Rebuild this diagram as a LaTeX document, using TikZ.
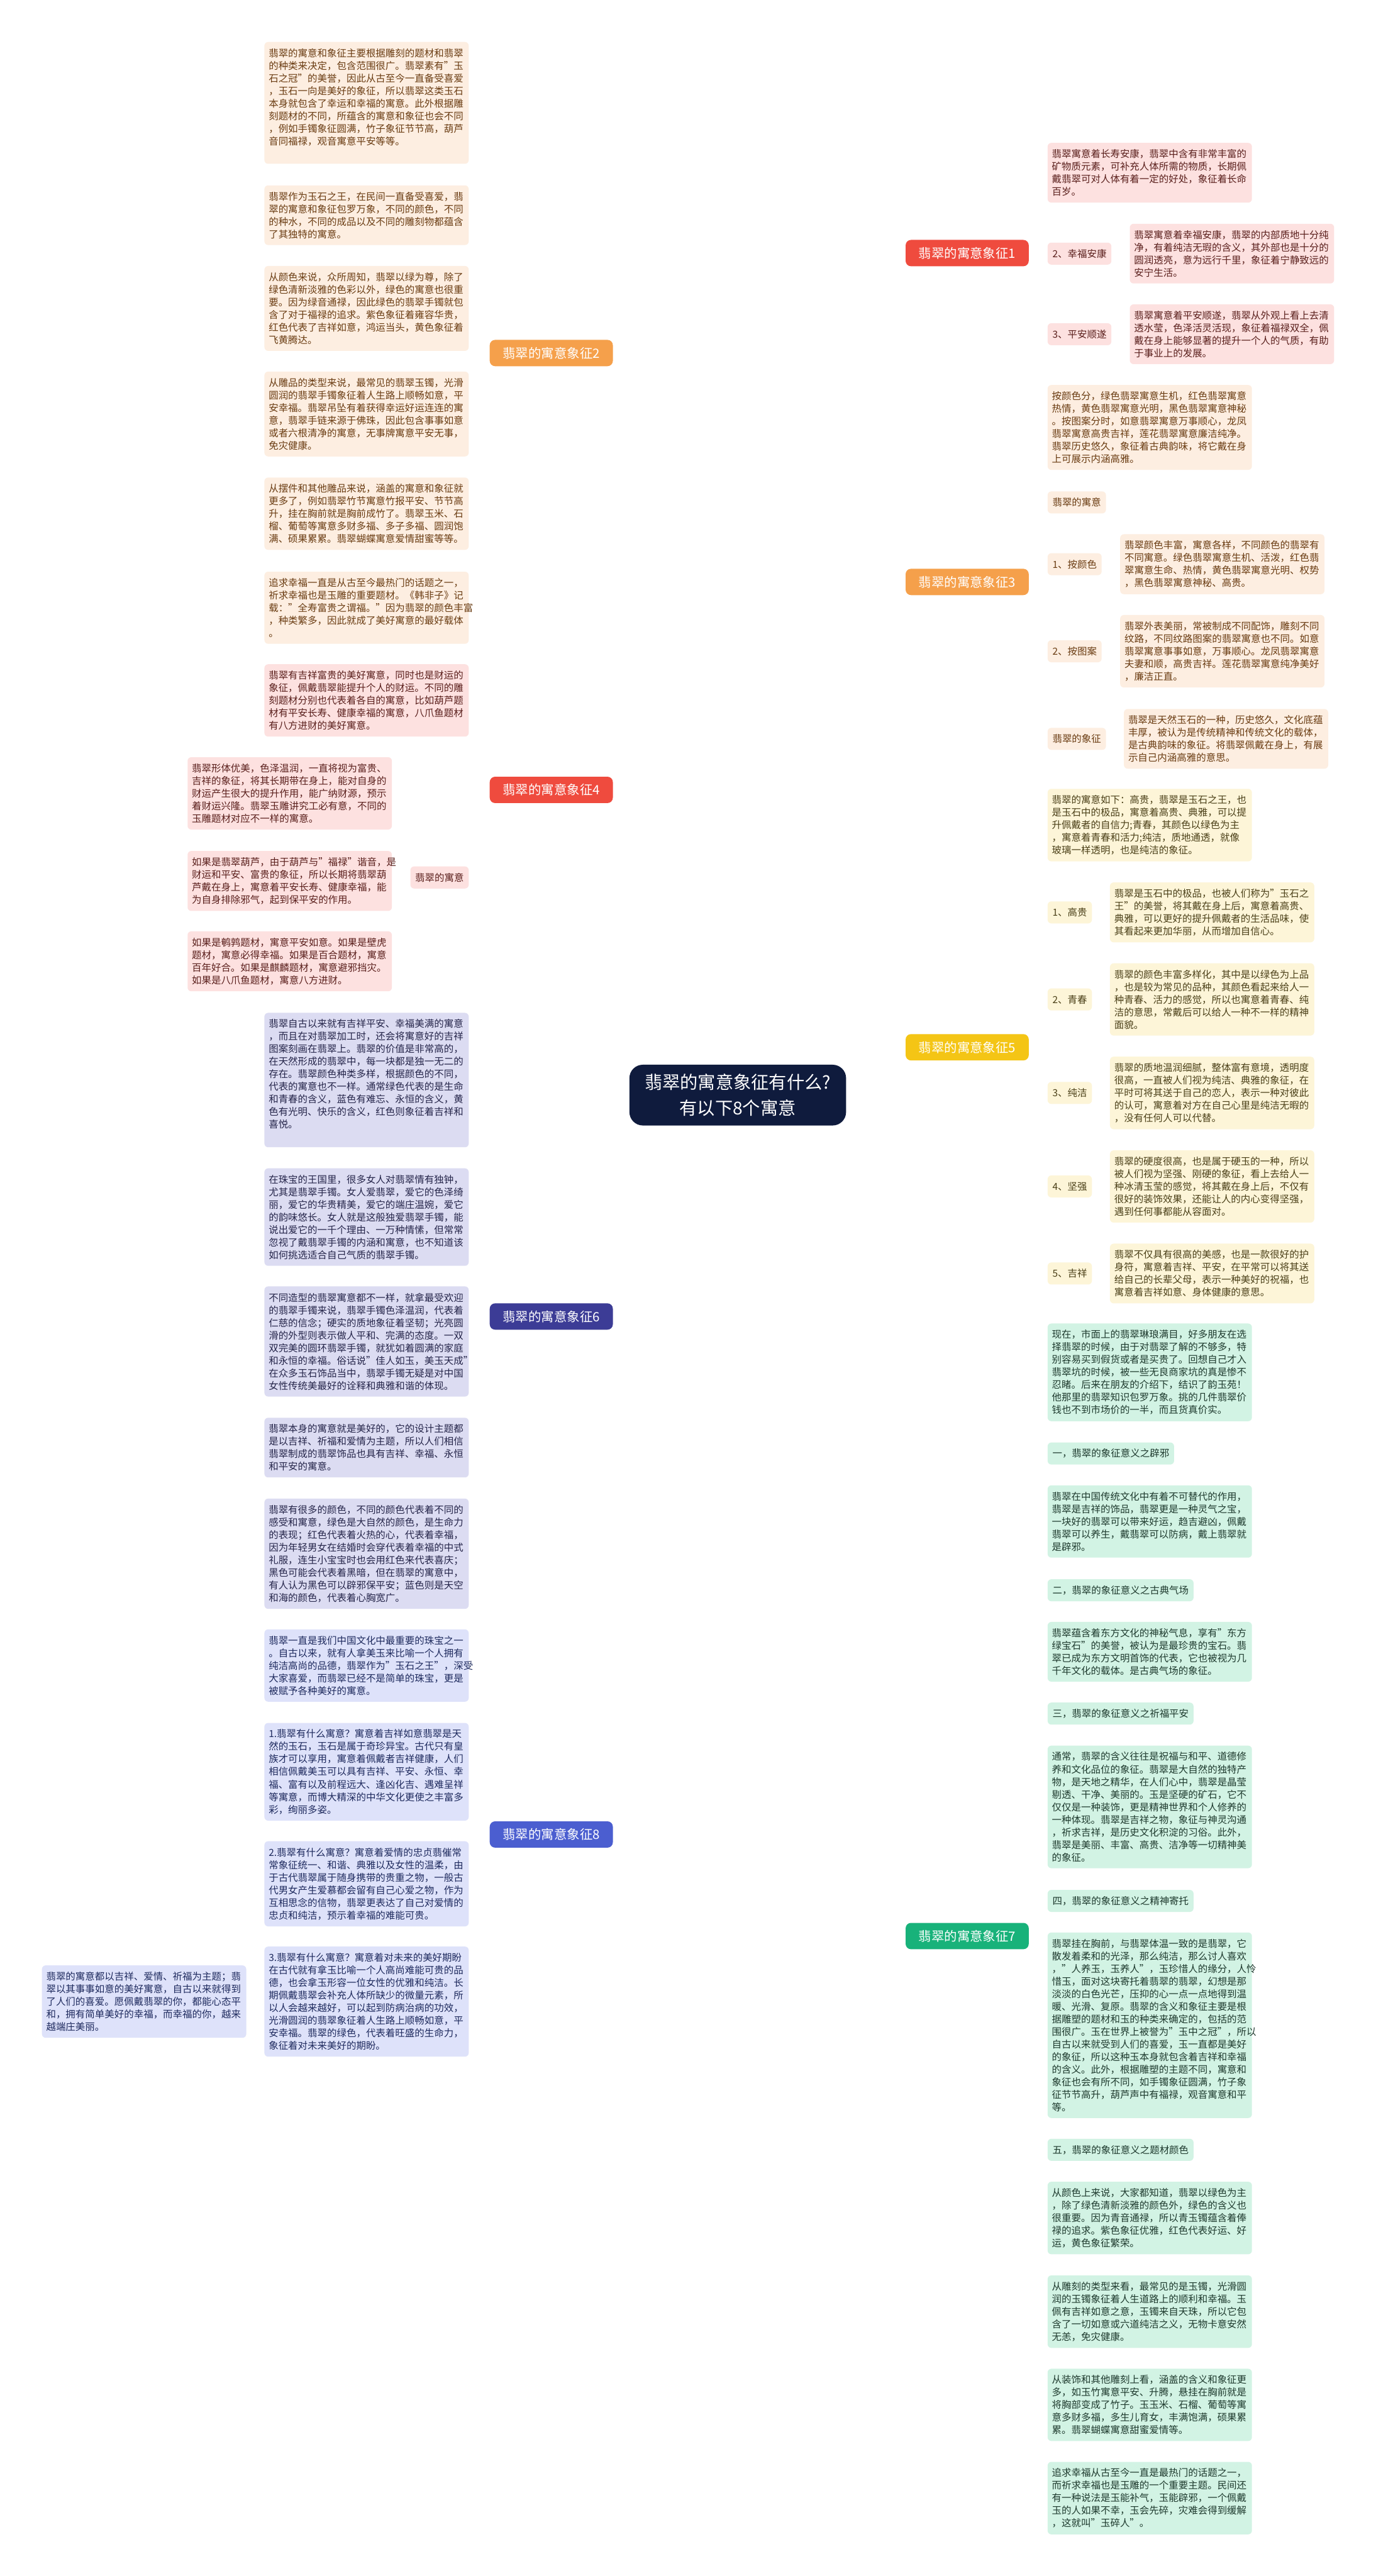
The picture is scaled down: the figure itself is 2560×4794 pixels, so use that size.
\documentclass[tikz,border=0pt]{standalone}
\usepackage{fontspec}
\setmainfont{Noto Sans CJK SC}
\usetikzlibrary{calc}
\pgfdeclarelayer{bg}
\pgfsetlayers{bg,main}
\definecolor{navy}{HTML}{0F1B3D}
\definecolor{rN}{HTML}{EF4B3E}
\definecolor{rL}{HTML}{DE4A40}
\definecolor{rF}{HTML}{FDE1E0}
\definecolor{rT}{HTML}{5A1F1C}
\definecolor{oN}{HTML}{F5A04B}
\definecolor{oL}{HTML}{F1A04F}
\definecolor{oF}{HTML}{FDEEE1}
\definecolor{oT}{HTML}{6A3C12}
\definecolor{yN}{HTML}{F4C515}
\definecolor{yL}{HTML}{F2CB30}
\definecolor{yF}{HTML}{FDF5D8}
\definecolor{yT}{HTML}{4B4018}
\definecolor{gN}{HTML}{18B27A}
\definecolor{gL}{HTML}{1FAD78}
\definecolor{gF}{HTML}{D2F3E4}
\definecolor{gT}{HTML}{1E3A2E}
\definecolor{pN}{HTML}{3C3C96}
\definecolor{pL}{HTML}{3C3C96}
\definecolor{pF}{HTML}{DCDCF2}
\definecolor{pT}{HTML}{25254A}
\definecolor{bN}{HTML}{4B5ED0}
\definecolor{bL}{HTML}{4B5ED0}
\definecolor{bF}{HTML}{DEE2FA}
\definecolor{bT}{HTML}{1E2A5E}
\newcommand\bodyf{\fontsize{5.15pt}{6.66pt}\selectfont}
\newcommand\brf{\fontsize{6.8pt}{8pt}\selectfont}
\newcommand\cenf{\fontsize{9.4pt}{13.7pt}\selectfont}
\newcommand\rconn[4]{\draw[cl,#1] (#2.east) .. controls (#2.east -| #4) and (#3.west -| #4) .. (#3.west);}
\newcommand\lconn[4]{\draw[cl,#1] (#2.west) .. controls (#2.west -| #4) and (#3.east -| #4) .. (#3.east);}
\tikzset{
  tbox/.style={rounded corners=0.07cm, inner xsep=0.08cm, inner ysep=0.12cm, text width=3.64cm, align=left, font=\bodyf},
  tlab/.style={rounded corners=0.07cm, inner xsep=0.09cm, inner ysep=0pt, minimum height=0.41cm, font=\bodyf},
  brn/.style={rounded corners=0.1cm, minimum width=2.29cm, minimum height=0.49cm, inner sep=0pt, text=white, font=\brf},
  cl/.style={line width=0.85pt},
  ml/.style={line width=1.15pt},
  rbox/.style={tbox, fill=rF, text=rT}, rlab/.style={tlab, fill=rF, text=rT},
  obox/.style={tbox, fill=oF, text=oT}, olab/.style={tlab, fill=oF, text=oT},
  ybox/.style={tbox, fill=yF, text=yT}, ylab/.style={tlab, fill=yF, text=yT},
  gbox/.style={tbox, fill=gF, text=gT}, glab/.style={tlab, fill=gF, text=gT},
  pbox/.style={tbox, fill=pF, text=pT},
  bbox/.style={tbox, fill=bF, text=bT},
}
\begin{document}
\begin{tikzpicture}[x=0.01cm, y=-0.01cm]
\fill[white] (0,0) rectangle (2560,4794);
\useasboundingbox (0,0) rectangle (2560,4794);

% ---------- center and branches ----------
\node[fill=navy, rounded corners=0.25cm, minimum width=4.03cm, minimum height=1.13cm, text=white, font=\cenf, align=center] (c) at (1373,2038) {翡翠的寓意象征有什么?\\有以下8个寓意};
\node[brn, fill=rN] (n1) at (1800,471) {翡翠的寓意象征1};
\node[brn, fill=oN] (n3) at (1800,1083) {翡翠的寓意象征3};
\node[brn, fill=yN] (n5) at (1800,1949) {翡翠的寓意象征5};
\node[brn, fill=gN] (n7) at (1800,3603) {翡翠的寓意象征7};
\node[brn, fill=oN] (n2) at (1026,657) {翡翠的寓意象征2};
\node[brn, fill=rN] (n4) at (1026,1470) {翡翠的寓意象征4};
\node[brn, fill=pN] (n6) at (1026,2450) {翡翠的寓意象征6};
\node[brn, fill=bN] (n8) at (1026,3414) {翡翠的寓意象征8};

% ---------- group 1 ----------
\node[rbox, anchor=west] (r1a) at (1949,321.5) {翡翠寓意着长寿安康，翡翠中含有非常丰富的\\矿物质元素，可补充人体所需的物质，长期佩\\戴翡翠可对人体有着一定的好处，象征着长命\\百岁。};
\node[rlab, anchor=west] (r1l2) at (1949,472) {2、幸福安康};
\node[rbox, anchor=west] (r1b) at (2102,472) {翡翠寓意着幸福安康，翡翠的内部质地十分纯\\净，有着纯洁无瑕的含义，其外部也是十分的\\圆润透亮，意为远行千里，象征着宁静致远的\\安宁生活。};
\node[rlab, anchor=west] (r1l3) at (1949,622) {3、平安顺遂};
\node[rbox, anchor=west] (r1c) at (2102,622) {翡翠寓意着平安顺遂，翡翠从外观上看上去清\\透水莹，色泽活灵活现，象征着福禄双全，佩\\戴在身上能够显著的提升一个人的气质，有助\\于事业上的发展。};

% ---------- group 3 ----------
\node[obox, anchor=west] (o3a) at (1949,795.5) {按颜色分，绿色翡翠寓意生机，红色翡翠寓意\\热情，黄色翡翠寓意光明，黑色翡翠寓意神秘\\。按图案分时，如意翡翠寓意万事顺心，龙凤\\翡翠寓意高贵吉祥，莲花翡翠寓意廉洁纯净。\\翡翠历史悠久，象征着古典韵味，将它戴在身\\上可展示内涵高雅。};
\node[olab, anchor=west] (o3b) at (1949,935) {翡翠的寓意};
\node[olab, anchor=west] (o3l1) at (1949,1050) {1、按颜色};
\node[obox, anchor=west] (o3c) at (2084,1050) {翡翠颜色丰富，寓意各样，不同颜色的翡翠有\\不同寓意。绿色翡翠寓意生机、活泼，红色翡\\翠寓意生命、热情，黄色翡翠寓意光明、权势\\，黑色翡翠寓意神秘、高贵。};
\node[olab, anchor=west] (o3l2) at (1949,1212) {2、按图案};
\node[obox, anchor=west] (o3d) at (2084,1212) {翡翠外表美丽，常被制成不同配饰，雕刻不同\\纹路，不同纹路图案的翡翠寓意也不同。如意\\翡翠寓意事事如意，万事顺心。龙凤翡翠寓意\\夫妻和顺，高贵吉祥。莲花翡翠寓意纯净美好\\，廉洁正直。};
\node[olab, anchor=west] (o3l3) at (1949,1375) {翡翠的象征};
\node[obox, anchor=west] (o3e) at (2091,1375) {翡翠是天然玉石的一种，历史悠久，文化底蕴\\丰厚，被认为是传统精神和传统文化的载体，\\是古典韵味的象征。将翡翠佩戴在身上，有展\\示自己内涵高雅的意思。};

% ---------- group 5 ----------
\node[ybox, anchor=west] (y5a) at (1949,1535.5) {翡翠的寓意如下：高贵，翡翠是玉石之王，也\\是玉石中的极品，寓意着高贵、典雅，可以提\\升佩戴者的自信力;青春，其颜色以绿色为主\\，寓意着青春和活力;纯洁，质地通透，就像\\玻璃一样透明，也是纯洁的象征。};
\node[ylab, anchor=west] (y5l1) at (1949,1698) {1、高贵};
\node[ybox, anchor=west] (y5b) at (2065,1698) {翡翠是玉石中的极品，也被人们称为"玉石之\\王"的美誉，将其戴在身上后，寓意着高贵、\\典雅，可以更好的提升佩戴者的生活品味，使\\其看起来更加华丽，从而增加自信心。};
\node[ylab, anchor=west] (y5l2) at (1949,1860) {2、青春};
\node[ybox, anchor=west] (y5c) at (2065,1860) {翡翠的颜色丰富多样化，其中是以绿色为上品\\，也是较为常见的品种，其颜色看起来给人一\\种青春、活力的感觉，所以也寓意着青春、纯\\洁的意思，常戴后可以给人一种不一样的精神\\面貌。};
\node[ylab, anchor=west] (y5l3) at (1949,2034) {3、纯洁};
\node[ybox, anchor=west] (y5d) at (2065,2034) {翡翠的质地温润细腻，整体富有意境，透明度\\很高，一直被人们视为纯洁、典雅的象征，在\\平时可将其送于自己的恋人，表示一种对彼此\\的认可，寓意着对方在自己心里是纯洁无暇的\\，没有任何人可以代替。};
\node[ylab, anchor=west] (y5l4) at (1949,2208) {4、坚强};
\node[ybox, anchor=west] (y5e) at (2065,2208) {翡翠的硬度很高，也是属于硬玉的一种，所以\\被人们视为坚强、刚硬的象征，看上去给人一\\种冰清玉莹的感觉，将其戴在身上后，不仅有\\很好的装饰效果，还能让人的内心变得坚强，\\遇到任何事都能从容面对。};
\node[ylab, anchor=west] (y5l5) at (1949,2370) {5、吉祥};
\node[ybox, anchor=west] (y5f) at (2065,2370) {翡翠不仅具有很高的美感，也是一款很好的护\\身符，寓意着吉祥、平安，在平常可以将其送\\给自己的长辈父母，表示一种美好的祝福，也\\寓意着吉祥如意、身体健康的意思。};

% ---------- group 7 ----------
\node[gbox, anchor=west] (g1) at (1949,2554) {现在，市面上的翡翠琳琅满目，好多朋友在选\\择翡翠的时候，由于对翡翠了解的不够多，特\\别容易买到假货或者是买贵了。回想自己才入\\翡翠坑的时候，被一些无良商家坑的真是惨不\\忍睹。后来在朋友的介绍下，结识了韵玉苑！\\他那里的翡翠知识包罗万象。挑的几件翡翠价\\钱也不到市场价的一半，而且货真价实。};
\node[glab, anchor=west] (gl1) at (1949,2705) {一，翡翠的象征意义之辟邪};
\node[gbox, anchor=west] (g2) at (1949,2831.5) {翡翠在中国传统文化中有着不可替代的作用，\\翡翠是吉祥的饰品，翡翠更是一种灵气之宝，\\一块好的翡翠可以带来好运，趋吉避凶，佩戴\\翡翠可以养生，戴翡翠可以防病，戴上翡翠就\\是辟邪。};
\node[glab, anchor=west] (gl2) at (1949,2959.5) {二，翡翠的象征意义之古典气场};
\node[gbox, anchor=west] (g3) at (1949,3074) {翡翠蕴含着东方文化的神秘气息，享有"东方\\绿宝石"的美誉，被认为是最珍贵的宝石。翡\\翠已成为东方文明首饰的代表，它也被视为几\\千年文化的载体。是古典气场的象征。};
\node[glab, anchor=west] (gl3) at (1949,3189) {三，翡翠的象征意义之祈福平安};
\node[gbox, anchor=west] (g4) at (1949,3362.7) {通常，翡翠的含义往往是祝福与和平、道德修\\养和文化品位的象征。翡翠是大自然的独特产\\物，是天地之精华，在人们心中，翡翠是晶莹\\剔透、干净、美丽的。玉是坚硬的矿石，它不\\仅仅是一种装饰，更是精神世界和个人修养的\\一种体现。翡翠是吉祥之物，象征与神灵沟通\\，祈求吉祥，是历史文化积淀的习俗。此外，\\翡翠是美丽、丰富、高贵、洁净等一切精神美\\的象征。};
\node[glab, anchor=west] (gl4) at (1949,3537.6) {四，翡翠的象征意义之精神寄托};
\node[gbox, anchor=west] (g5) at (1949,3769) {翡翠挂在胸前，与翡翠体温一致的是翡翠，它\\散发着柔和的光泽，那么纯洁，那么讨人喜欢\\，"人养玉，玉养人"，玉珍惜人的缘分，人怜\\惜玉，面对这块寄托着翡翠的翡翠，幻想是那\\淡淡的白色光芒，压抑的心一点一点地得到温\\暖、光滑、复原。翡翠的含义和象征主要是根\\据雕塑的题材和玉的种类来确定的，包括的范\\围很广。玉在世界上被誉为"玉中之冠"，所以\\自古以来就受到人们的喜爱，玉一直都是美好\\的象征，所以这种玉本身就包含着吉祥和幸福\\的含义。此外，根据雕塑的主题不同，寓意和\\象征也会有所不同，如手镯象征圆满，竹子象\\征节节高升，葫芦声中有福禄，观音寓意和平\\等。};
\node[glab, anchor=west] (gl5) at (1949,4000.8) {五，翡翠的象征意义之题材颜色};
\node[gbox, anchor=west] (g6) at (1949,4127.7) {从颜色上来说，大家都知道，翡翠以绿色为主\\，除了绿色清新淡雅的颜色外，绿色的含义也\\很重要。因为青音通禄，所以青玉镯蕴含着俸\\禄的追求。紫色象征优雅，红色代表好运、好\\运，黄色象征繁荣。};
\node[gbox, anchor=west] (g7) at (1949,4302) {从雕刻的类型来看，最常见的是玉镯，光滑圆\\润的玉镯象征着人生道路上的顺利和幸福。玉\\佩有吉祥如意之意，玉镯来自天珠，所以它包\\含了一切如意或六道纯洁之义，无物卡意安然\\无恙，免灾健康。};
\node[gbox, anchor=west] (g8) at (1949,4475.5) {从装饰和其他雕刻上看，涵盖的含义和象征更\\多，如玉竹寓意平安、升腾，悬挂在胸前就是\\将胸部变成了竹子。玉玉米、石榴、葡萄等寓\\意多财多福，多生儿育女，丰满饱满，硕果累\\累。翡翠蝴蝶寓意甜蜜爱情等。};
\node[gbox, anchor=west] (g9) at (1949,4649) {追求幸福从古至今一直是最热门的话题之一，\\而祈求幸福也是玉雕的一个重要主题。民间还\\有一种说法是玉能补气，玉能辟邪，一个佩戴\\玉的人如果不幸，玉会先碎，灾难会得到缓解\\，这就叫"玉碎人"。};

% ---------- group 2 ----------
\node[obox, anchor=east] (b2a) at (873,191.5) {翡翠的寓意和象征主要根据雕刻的题材和翡翠\\的种类来决定，包含范围很广。翡翠素有"玉\\石之冠"的美誉，因此从古至今一直备受喜爱\\，玉石一向是美好的象征，所以翡翠这类玉石\\本身就包含了幸运和幸福的寓意。此外根据雕\\刻题材的不同，所蕴含的寓意和象征也会不同\\，例如手镯象征圆满，竹子象征节节高，葫芦\\音同福禄，观音寓意平安等等。\\ \mbox{}};
\node[obox, anchor=east] (b2b) at (873,400.5) {翡翠作为玉石之王，在民间一直备受喜爱，翡\\翠的寓意和象征包罗万象，不同的颜色，不同\\的种水，不同的成品以及不同的雕刻物都蕴含\\了其独特的寓意。};
\node[obox, anchor=east] (b2c) at (873,574) {从颜色来说，众所周知，翡翠以绿为尊，除了\\绿色清新淡雅的色彩以外，绿色的寓意也很重\\要。因为绿音通禄，因此绿色的翡翠手镯就包\\含了对于福禄的追求。紫色象征着雍容华贵，\\红色代表了吉祥如意，鸿运当头，黄色象征着\\飞黄腾达。};
\node[obox, anchor=east] (b2d) at (873,770.5) {从雕品的类型来说，最常见的翡翠玉镯，光滑\\圆润的翡翠手镯象征着人生路上顺畅如意，平\\安幸福。翡翠吊坠有着获得幸运好运连连的寓\\意，翡翠手链来源于佛珠，因此包含事事如意\\或者六根清净的寓意，无事牌寓意平安无事，\\免灾健康。};
\node[obox, anchor=east] (b2e) at (873,956) {从摆件和其他雕品来说，涵盖的寓意和象征就\\更多了，例如翡翠竹节寓意竹报平安、节节高\\升，挂在胸前就是胸前成竹了。翡翠玉米、石\\榴、葡萄等寓意多财多福、多子多福、圆润饱\\满、硕果累累。翡翠蝴蝶寓意爱情甜蜜等等。};
\node[obox, anchor=east] (b2f) at (873,1131) {追求幸福一直是从古至今最热门的话题之一，\\祈求幸福也是玉雕的重要题材。《韩非子》记\\载："全寿富贵之谓福。"因为翡翠的颜色丰富\\，种类繁多，因此就成了美好寓意的最好载体\\。};

% ---------- group 4 ----------
\node[rbox, anchor=east] (b4a) at (873,1303.5) {翡翠有吉祥富贵的美好寓意，同时也是财运的\\象征，佩戴翡翠能提升个人的财运。不同的雕\\刻题材分别也代表着各自的寓意，比如葫芦题\\材有平安长寿、健康幸福的寓意，八爪鱼题材\\有八方进财的美好寓意。};
\node[rlab, anchor=east] (b4b) at (873,1633) {翡翠的寓意};
\node[rbox, anchor=east] (b4c) at (730,1476.5) {翡翠形体优美，色泽温润，一直将视为富贵、\\吉祥的象征，将其长期带在身上，能对自身的\\财运产生很大的提升作用，能广纳财源，预示\\着财运兴隆。翡翠玉雕讲究工必有意，不同的\\玉雕题材对应不一样的寓意。};
\node[rbox, anchor=east] (b4d) at (730,1639.5) {如果是翡翠葫芦，由于葫芦与"福禄"谐音，是\\财运和平安、富贵的象征，所以长期将翡翠葫\\芦戴在身上，寓意着平安长寿、健康幸福，能\\为自身排除邪气，起到保平安的作用。};
\node[rbox, anchor=east] (b4e) at (730,1789) {如果是鹌鹑题材，寓意平安如意。如果是壁虎\\题材，寓意必得幸福。如果是百合题材，寓意\\百年好合。如果是麒麟题材，寓意避邪挡灾。\\如果是八爪鱼题材，寓意八方进财。};

% ---------- group 6 ----------
\node[pbox, anchor=east] (b6a) at (873,2010) {翡翠自古以来就有吉祥平安、幸福美满的寓意\\，而且在对翡翠加工时，还会将寓意好的吉祥\\图案刻画在翡翠上。翡翠的价值是非常高的，\\在天然形成的翡翠中，每一块都是独一无二的\\存在。翡翠颜色种类多样，根据颜色的不同，\\代表的寓意也不一样。通常绿色代表的是生命\\和青春的含义，蓝色有难忘、永恒的含义，黄\\色有光明、快乐的含义，红色则象征着吉祥和\\喜悦。\\ \mbox{}};
\node[pbox, anchor=east] (b6b) at (873,2265) {在珠宝的王国里，很多女人对翡翠情有独钟，\\尤其是翡翠手镯。女人爱翡翠，爱它的色泽绮\\丽，爱它的华贵精美，爱它的端庄温婉，爱它\\的韵味悠长。女人就是这般独爱翡翠手镯，能\\说出爱它的一千个理由、一万种情愫，但常常\\忽视了戴翡翠手镯的内涵和寓意，也不知道该\\如何挑选适合自己气质的翡翠手镯。};
\node[pbox, anchor=east] (b6c) at (873,2496.5) {不同造型的翡翠寓意都不一样，就拿最受欢迎\\的翡翠手镯来说，翡翠手镯色泽温润，代表着\\仁慈的信念；硬实的质地象征着坚韧；光亮圆\\滑的外型则表示做人平和、完满的态度。一双\\双完美的圆环翡翠手镯，就犹如着圆满的家庭\\和永恒的幸福。俗话说"佳人如玉，美玉天成"\\在众多玉石饰品当中，翡翠手镯无疑是对中国\\女性传统美最好的诠释和典雅和谐的体现。};
\node[pbox, anchor=east] (b6d) at (873,2694) {翡翠本身的寓意就是美好的，它的设计主题都\\是以吉祥、祈福和爱情为主题，所以人们相信\\翡翠制成的翡翠饰品也具有吉祥、幸福、永恒\\和平安的寓意。};
\node[pbox, anchor=east] (b6e) at (873,2891.5) {翡翠有很多的颜色，不同的颜色代表着不同的\\感受和寓意，绿色是大自然的颜色，是生命力\\的表现；红色代表着火热的心，代表着幸福，\\因为年轻男女在结婚时会穿代表着幸福的中式\\礼服，连生小宝宝时也会用红色来代表喜庆；\\黑色可能会代表着黑暗，但在翡翠的寓意中，\\有人认为黑色可以辟邪保平安；蓝色则是天空\\和海的颜色，代表着心胸宽广。};

% ---------- group 8 ----------
\node[bbox, anchor=east] (b8a) at (873,3099.6) {翡翠一直是我们中国文化中最重要的珠宝之一\\。自古以来，就有人拿美玉来比喻一个人拥有\\纯洁高尚的品德，翡翠作为"玉石之王"，深受\\大家喜爱，而翡翠已经不是简单的珠宝，更是\\被赋予各种美好的寓意。};
\node[bbox, anchor=east] (b8b) at (873,3297.3) {1.翡翠有什么寓意？寓意着吉祥如意翡翠是天\\然的玉石，玉石是属于奇珍异宝。古代只有皇\\族才可以享用，寓意着佩戴者吉祥健康，人们\\相信佩戴美玉可以具有吉祥、平安、永恒、幸\\福、富有以及前程远大、逢凶化吉、遇难呈祥\\等寓意，而博大精深的中华文化更使之丰富多\\彩，绚丽多姿。};
\node[bbox, anchor=east] (b8c) at (873,3505.8) {2.翡翠有什么寓意？寓意着爱情的忠贞翡催常\\常象征统一、和谐、典雅以及女性的温柔，由\\于古代翡翠属于随身携带的贵重之物，一般古\\代男女产生爱慕都会留有自己心爱之物，作为\\互相思念的信物，翡翠更表达了自己对爱情的\\忠贞和纯洁，预示着幸福的难能可贵。};
\node[bbox, anchor=east] (b8d) at (873,3725) {3.翡翠有什么寓意？寓意着对未来的美好期盼\\在古代就有拿玉比喻一个人高尚难能可贵的品\\德，也会拿玉形容一位女性的优雅和纯洁。长\\期佩戴翡翠会补充人体所缺少的微量元素，所\\以人会越来越好，可以起到防病治病的功效，\\光滑圆润的翡翠象征着人生路上顺畅如意，平\\安幸福。翡翠的绿色，代表着旺盛的生命力，\\象征着对未来美好的期盼。};
\node[bbox, anchor=east] (b8e) at (459,3725) {翡翠的寓意都以吉祥、爱情、祈福为主题；翡\\翠以其事事如意的美好寓意，自古以来就得到\\了人们的喜爱。愿佩戴翡翠的你，都能心态平\\和，拥有简单美好的幸福，而幸福的你，越来\\越端庄美丽。};

% ---------- connectors ----------
\begin{pgfonlayer}{bg}
\coordinate (sR) at (1530,2038);
\coordinate (sL) at (1250,2038);
\coordinate (tR) at (1655,0);
\coordinate (tL) at (1168,0);
\foreach \n/\col in {n1/rL, n3/oL, n5/yL, n7/gL} {
  \draw[ml,\col] (sR) .. controls (sR -| tR) and (\n.west -| tR) .. (\n.west);
}
\foreach \n/\col in {n2/oL, n4/rL, n6/pL, n8/bL} {
  \draw[ml,\col] (sL) .. controls (sL -| tL) and (\n.east -| tL) .. (\n.east);
}
\coordinate (tr1) at (1932,0);
\coordinate (tr3) at (1931,0);
\coordinate (tr5) at (1933,0);
\coordinate (tr7) at (1933,0);
\coordinate (tlf) at (892,0);
\coordinate (tl4) at (745,0);
\foreach \b in {r1a, r1l2, r1l3} {\rconn{rL}{n1}{\b}{tr1}}
\draw[cl,rL] (r1l2.east) -- (r1b.west);
\draw[cl,rL] (r1l3.east) -- (r1c.west);
\foreach \b in {o3a, o3b, o3l1, o3l2, o3l3} {\rconn{oL}{n3}{\b}{tr3}}
\draw[cl,oL] (o3l1.east) -- (o3c.west);
\draw[cl,oL] (o3l2.east) -- (o3d.west);
\draw[cl,oL] (o3l3.east) -- (o3e.west);
\foreach \b in {y5a, y5l1, y5l2, y5l3, y5l4, y5l5} {\rconn{yL}{n5}{\b}{tr5}}
\draw[cl,yL] (y5l1.east) -- (y5b.west);
\draw[cl,yL] (y5l2.east) -- (y5c.west);
\draw[cl,yL] (y5l3.east) -- (y5d.west);
\draw[cl,yL] (y5l4.east) -- (y5e.west);
\draw[cl,yL] (y5l5.east) -- (y5f.west);
\foreach \b in {g1, gl1, g2, gl2, g3, gl3, g4, gl4, g5, gl5, g6, g7, g8, g9} {\rconn{gL}{n7}{\b}{tr7}}
\foreach \b in {b2a, b2b, b2c, b2d, b2e, b2f} {\lconn{oL}{n2}{\b}{tlf}}
\foreach \b in {b4a, b4b} {\lconn{rL}{n4}{\b}{tlf}}
\foreach \b in {b4c, b4d, b4e} {\lconn{rL}{b4b}{\b}{tl4}}
\foreach \b in {b6a, b6b, b6c, b6d, b6e} {\lconn{pL}{n6}{\b}{tlf}}
\foreach \b in {b8a, b8b, b8c, b8d} {\lconn{bL}{n8}{\b}{tlf}}
\draw[cl,bL] (b8d.west) -- (b8e.east);
\end{pgfonlayer}
\end{tikzpicture}
\end{document}
